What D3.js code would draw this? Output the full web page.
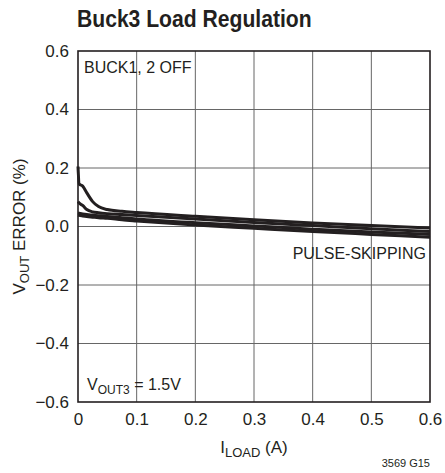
<!DOCTYPE html>
<meta charset="utf-8">
<style>
body { margin: 0; background: #fff; }
svg text {
    font-family: 'Liberation Sans Narrow', 'Liberation Sans', 'DejaVu Sans Condensed', sans-serif;
    fill: #231f20;
}
.grid line { stroke: #666; stroke-width: 1; }
.curve { fill: none; stroke: #231f20; stroke-width: 3px; stroke-linejoin: round; }
</style>
<svg width="445" height="473" id="svg"></svg>
<script src="https://cdn.jsdelivr.net/npm/d3@7"></script>
<script>

// load current (A)
const loadAmps = [0, 0.002, 0.008, 0.015, 0.025, 0.035, 0.05, 0.075, 0.1, 0.2, 0.3, 0.4, 0.5, 0.6];

// output error (%) for the four traces
const trace1 = [0.205, 0.145, 0.138, 0.115, 0.085, 0.068, 0.058, 0.052, 0.048, 0.035, 0.023, 0.012, 0.003, -0.005];
const trace2 = [0.085, 0.080, 0.072, 0.058, 0.050, 0.047, 0.044, 0.041, 0.038, 0.026, 0.014, 0.003, -0.008, -0.017];
const trace3 = [0.046, 0.045, 0.043, 0.041, 0.039, 0.037, 0.034, 0.030, 0.026, 0.013, 0.002, -0.009, -0.019, -0.027];
const trace4 = [0.039, 0.038, 0.036, 0.034, 0.032, 0.030, 0.028, 0.023, 0.019, 0.005, -0.006, -0.017, -0.027, -0.037];

const xTicks = [0, 0.1, 0.2, 0.3, 0.4, 0.5, 0.6];
const yTicks = [-0.6, -0.4, -0.2, 0, 0.2, 0.4, 0.6];

function translate(x, y) {
    return 'translate(' + x + ',' + y + ')';
}

let svg = d3.select('#svg');
let margin = {top: 51, left: 78, right: 15, bottom: 71};
let width = 445 - margin.left - margin.right,
    height = 473 - margin.top - margin.bottom;

let x = d3.scaleLinear().domain([0, 0.6]).range([0, width]);
let y = d3.scaleLinear().domain([-0.6, 0.6]).range([height, 0]);

let g = svg.append('g').attr('transform', translate(margin.left, margin.top));

// title (squeezed to look condensed)
svg.append('text')
    .attr('transform', translate(77, 27) + ' scale(0.88,1)')
    .style('font-size', '24px')
    .style('font-weight', 'bold')
    .text('Buck3 Load Regulation');

// grid
let grid = g.append('g').attr('class', 'grid');
grid.selectAll('.vx')
    .data(xTicks.slice(1, -1))
    .enter().append('line')
    .attr('x1', d => x(d)).attr('x2', d => x(d))
    .attr('y1', 0).attr('y2', height);
grid.selectAll('.hy')
    .data(yTicks.slice(1, -1))
    .enter().append('line')
    .attr('y1', d => y(d)).attr('y2', d => y(d))
    .attr('x1', 0).attr('x2', width);

// frame
g.append('rect')
    .attr('width', width)
    .attr('height', height)
    .attr('fill', 'none')
    .attr('stroke', '#231f20')
    .attr('stroke-width', 1.6);

// axes (labels only)
let xAxis = d3.axisBottom(x).tickValues(xTicks).tickSize(0).tickPadding(11)
    .tickFormat(d => d === 0 ? '0' : d3.format('.1f')(d));
let ax = g.append('g').attr('transform', translate(0, height)).call(xAxis);
ax.select('.domain').remove();
ax.selectAll('text').style('font-size', '17px').attr('fill', '#231f20');

let yAxis = d3.axisLeft(y).tickValues(yTicks).tickSize(0).tickPadding(9)
    .tickFormat(d => d3.format('.1f')(d).replace('-', '\u2013'));
let ay = g.append('g').call(yAxis);
ay.select('.domain').remove();
ay.selectAll('text').style('font-size', '17px').attr('fill', '#231f20');

// traces
let line = d3.line()
    .curve(d3.curveMonotoneX)
    .x(d => x(d[0]))
    .y(d => y(d[1]));

let traces = [trace1, trace2, trace3, trace4].map(t => t.map((v, i) => [loadAmps[i], v]));

g.selectAll('.curve')
    .data(traces)
    .enter().append('path')
    .attr('class', 'curve')
    .attr('d', line);

// annotations
g.append('text')
    .attr('x', 6).attr('y', 22)
    .style('font-size', '16px')
    .text('BUCK1, 2 OFF');

g.append('text')
    .attr('x', width - 4).attr('y', 208)
    .attr('text-anchor', 'end')
    .style('font-size', '16px')
    .text('PULSE-SKIPPING');

let vout = g.append('text')
    .attr('x', 9).attr('y', height - 12)
    .style('font-size', '16px');
vout.append('tspan').text('V');
vout.append('tspan').attr('dy', 4).style('font-size', '12px').text('OUT3');
vout.append('tspan').attr('dy', -4).text(' = 1.5V');

// axis titles
let xt = svg.append('text')
    .attr('x', margin.left + width / 2)
    .attr('y', 453)
    .attr('text-anchor', 'middle')
    .style('font-size', '17px');
xt.append('tspan').text('I');
xt.append('tspan').attr('dy', 4).style('font-size', '13px').text('LOAD');
xt.append('tspan').attr('dy', -4).text(' (A)');

let yt = svg.append('text')
    .attr('transform', translate(25, margin.top + height / 2) + ' rotate(-90)')
    .attr('text-anchor', 'middle')
    .style('font-size', '17px');
yt.append('tspan').text('V');
yt.append('tspan').attr('dy', 4).style('font-size', '13px').text('OUT');
yt.append('tspan').attr('dy', -4).text(' ERROR (%)');

svg.append('text')
    .attr('x', 430).attr('y', 467)
    .attr('text-anchor', 'end')
    .style('font-size', '11px')
    .text('3569 G15');

</script>
